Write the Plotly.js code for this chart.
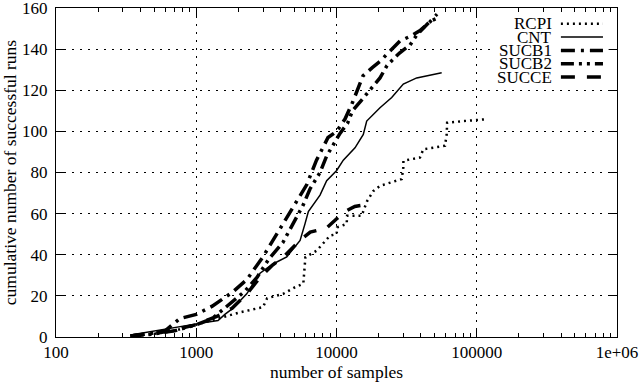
<!DOCTYPE html>
<html>
<head>
<meta charset="utf-8">
<script src="https://cdn.plot.ly/plotly-3.0.1.min.js"></script>
<style>
html, body { margin: 0; padding: 0; background: #fff; }
#plot { width: 640px; height: 382px; }
</style>
</head>
<body>
<div id="plot"></div>
<script>
// values
const seriesNames = ["RCPI", "CNT", "SUCB1", "SUCB2", "SUCCE"];

const rcpiX = [340, 500, 700, 1000, 1480, 2050, 2990, 3200, 4170, 5000, 5800, 5850, 6000, 7230, 8990, 10030, 10100, 11820, 11900, 15120, 15970, 16500, 18300, 20420, 29160, 29950, 30000, 39400, 41590, 59370, 61050, 61500, 80200, 117800];
const rcpiY = [0.5, 1.5, 3, 6, 9, 12, 14.5, 18.8, 21, 24, 26, 31, 38.8, 42, 49.3, 50, 53.3, 55, 59, 59, 63, 66, 71, 73.5, 76.8, 82.4, 85.7, 87.3, 91.3, 93, 98.6, 104.2, 105, 105.9];

const cntX = [340, 600, 1030, 1430, 1600, 1830, 2290, 2850, 3520, 4420, 5500, 5960, 6300, 7630, 8510, 10030, 11180, 13550, 15530, 16420, 20420, 24760, 29950, 37310, 56230];
const cntY = [1, 4, 6.5, 8, 11, 14, 21, 31, 35.5, 39, 47, 55, 61, 69, 76, 81, 86, 92, 98.5, 105, 111.5, 116.5, 123, 126, 128.5];

const sucb1X = [340, 450, 600, 766, 1000, 1300, 1830, 2300, 2990, 3820, 4880, 6130, 7200, 8000, 8700, 10030, 11500, 13000, 15450, 18000, 20420, 24000, 28370, 33000, 39400, 46000, 52100];
const sucb1Y = [0.5, 1.5, 3, 9, 11, 15, 22, 28, 39, 51, 62.5, 74, 86, 92, 97, 100, 106, 114, 127, 131, 134, 139, 144, 146, 149, 153, 157];

const sucb2X = [340, 500, 700, 1000, 1300, 1740, 2200, 2710, 3300, 4150, 4900, 5770, 6470, 7630, 8500, 9500, 10590, 12000, 13000, 15000, 17330, 20420, 22910, 28000, 33430, 37500, 46410, 52100];
const sucb2Y = [0.5, 1.5, 3, 6, 9, 16, 22, 29, 38, 46, 55, 64, 72, 80, 88, 94, 99, 104, 110, 115, 120, 126, 132, 138, 142, 147, 153.5, 155];

const succeX = [340, 600, 1000, 1400, 1800, 2300, 2850, 3500, 4150, 5500, 6500, 7600, 8500, 10030, 11500, 13500, 15000];
const succeY = [0.5, 2.5, 6, 10, 14, 21, 29, 35, 38.7, 47, 51, 52, 53, 57.5, 61, 63.5, 64];

const xTickVals = [100, 1000, 10000, 100000, 1000000];
const xTickText = ["100", "1000", "10000", "100000", "1e+06"];

// line styles (gnuplot-ish)
const styles = [
	{ width: 2.5, dash: "2px,4px" },
	{ width: 1.5, dash: "solid" },
	{ width: 3.5, dash: "14px,6px,3px,6px" },
	{ width: 3.5, dash: "13px,5px,3px,5px,3px,5px" },
	{ width: 3.5, dash: "14px,12px" }
];

const xs = [rcpiX, cntX, sucb1X, sucb2X, succeX];
const ys = [rcpiY, cntY, sucb1Y, sucb2Y, succeY];

const fam = "Liberation Serif, Times New Roman, serif";
const font = { family: fam, size: 17, color: "#000" };

const data = seriesNames.map((name, i) => ({
	name: name,
	x: xs[i],
	y: ys[i],
	mode: "lines",
	line: { color: "#000", width: styles[i].width, dash: styles[i].dash },
	showlegend: false
}));

// gnuplot style key: text right aligned, sample after it
const shapes = [{
	type: "rect", xref: "paper", yref: "paper", layer: "above",
	x0: 0.78, x1: 0.985, y0: 0.77, y1: 0.985,
	fillcolor: "#fff", line: { width: 0 }
}];
const annotations = [];
seriesNames.forEach((name, i) => {
	const yy = 0.952 - i * 0.0405;
	annotations.push({
		xref: "paper", yref: "paper", x: 0.887, y: yy,
		xanchor: "right", yanchor: "middle", showarrow: false,
		text: name, font: font
	});
	shapes.push({
		type: "line", xref: "paper", yref: "paper", layer: "above",
		x0: 0.9, x1: 0.975, y0: yy, y1: yy,
		line: { color: "#000", width: styles[i].width, dash: styles[i].dash }
	});
});

const layout = {
	width: 640, height: 382,
	margin: { l: 56, r: 23, t: 8, b: 45 },
	paper_bgcolor: "#fff", plot_bgcolor: "#fff",
	font: font,
	xaxis: {
		type: "log",
		range: [2, 6],
		tickvals: xTickVals,
		ticktext: xTickText,
		ticks: "inside", ticklen: 8, tickcolor: "#000",
		minor: { ticks: "inside", ticklen: 4, tickcolor: "#000", dtick: "D1", showgrid: false },
		showline: true, linecolor: "#000", linewidth: 1, mirror: "allticks",
		showgrid: true, gridcolor: "#000", gridwidth: 1, griddash: "2px,6px",
		zeroline: false,
		tickfont: font,
		ticklabeloverflow: "allow",
		title: { text: "number of samples", font: { family: fam, size: 17.5, color: "#000" }, standoff: 4 }
	},
	yaxis: {
		range: [0, 160],
		dtick: 20,
		ticks: "inside", ticklen: 8, tickcolor: "#000",
		showline: true, linecolor: "#000", linewidth: 1, mirror: "allticks",
		showgrid: true, gridcolor: "#000", gridwidth: 1, griddash: "2px,6px",
		zeroline: false,
		tickfont: font,
		ticklabelstandoff: 4,
		ticklabeloverflow: "allow",
		title: { text: "cumulative number of successful runs", font: { family: fam, size: 17.5, color: "#000" }, standoff: 3 }
	},
	shapes: shapes,
	annotations: annotations
};

Plotly.newPlot("plot", data, layout, { staticPlot: true });
</script>
</body>
</html>
